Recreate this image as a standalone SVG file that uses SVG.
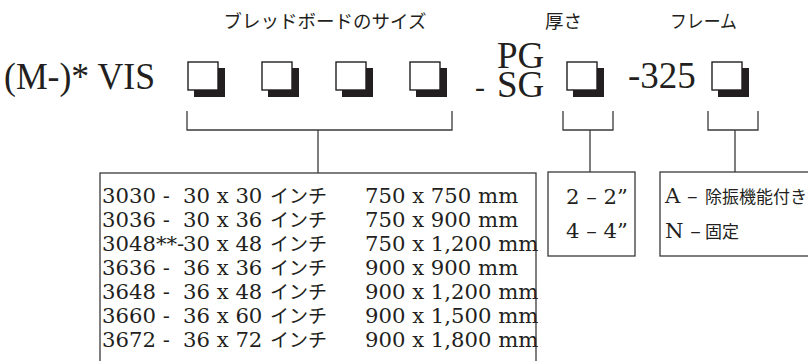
<svg xmlns="http://www.w3.org/2000/svg" width="808" height="361" viewBox="0 0 808 361">
<defs>
<style>
.lbl{font-family:"Noto Sans CJK JP","Noto Sans CJK SC",sans-serif;font-size:18.5px;fill:#231f20}
.big{font-family:"Liberation Serif","Times New Roman",serif;font-size:37px;fill:#231f20}
.tb{font-family:"DejaVu Serif","Noto Sans CJK JP",serif;font-size:21.2px;fill:#231f20}
.cjk{font-family:"Noto Sans CJK JP","Noto Sans CJK SC",sans-serif;font-size:19px;fill:#231f20}
.cjk2{font-family:"Noto Sans CJK JP","Noto Sans CJK SC",sans-serif;font-size:17px;fill:#231f20}
.ln{fill:none;stroke:#3a3a3a;stroke-width:1.3}
.shadow{fill:#231f20}
.sq{fill:#fff;stroke:#231f20;stroke-width:1.4}
</style>
<g id="sqbox">
<rect class="shadow" x="6" y="6" width="31" height="29"/>
<rect class="sq" x="0" y="0" width="30" height="28"/>
</g>
</defs>

<g id="labels">
<text class="lbl" x="325" y="28" text-anchor="middle">ブレッドボードのサイズ</text>
<text class="lbl" x="563.5" y="28" text-anchor="middle">厚さ</text>
<text class="lbl" x="703.5" y="28" text-anchor="middle" textLength="67" lengthAdjust="spacingAndGlyphs">フレーム</text>
</g>

<g id="code">
<text class="big" x="4" y="89" textLength="151" lengthAdjust="spacingAndGlyphs">(M-)* VIS</text>
<text class="big" x="475" y="97" style="font-size:30px">-</text>
<text class="big" x="497" y="68">PG</text>
<text class="big" x="497" y="97">SG</text>
<text class="big" x="628" y="88">-325</text>
</g>

<g id="boxes">
<use href="#sqbox" x="188" y="62"/>
<use href="#sqbox" x="262" y="62"/>
<use href="#sqbox" x="336" y="62"/>
<use href="#sqbox" x="410" y="62"/>
<use href="#sqbox" x="567" y="62"/>
<use href="#sqbox" x="712" y="62"/>
</g>

<g id="connectors">
<path class="ln" d="M187,111 V130 H452 V111 M318,130 V173"/>
<path class="ln" d="M563,111 V130 H613 V111 M590,130 V172"/>
<path class="ln" d="M708,111 V130 H758 V111 M735,130 V172"/>
</g>

<g id="size-table">
<rect class="ln" x="100" y="173" width="436" height="200"/>
<text class="tb">
<tspan x="102" y="203">3030 -</tspan>
<tspan x="102" y="227">3036 -</tspan>
<tspan x="102" y="251">3048**-</tspan>
<tspan x="102" y="275">3636 -</tspan>
<tspan x="102" y="299">3648 -</tspan>
<tspan x="102" y="323">3660 -</tspan>
<tspan x="102" y="347">3672 -</tspan>
</text>
<text class="tb">
<tspan x="183" y="203">30 x 30</tspan>
<tspan x="183" y="227">30 x 36</tspan>
<tspan x="183" y="251">30 x 48</tspan>
<tspan x="183" y="275">36 x 36</tspan>
<tspan x="183" y="299">36 x 48</tspan>
<tspan x="183" y="323">36 x 60</tspan>
<tspan x="183" y="347">36 x 72</tspan>
</text>
<text class="cjk">
<tspan x="270" y="203">インチ</tspan>
<tspan x="270" y="227">インチ</tspan>
<tspan x="270" y="251">インチ</tspan>
<tspan x="270" y="275">インチ</tspan>
<tspan x="270" y="299">インチ</tspan>
<tspan x="270" y="323">インチ</tspan>
<tspan x="270" y="347">インチ</tspan>
</text>
<text class="tb">
<tspan x="365" y="203">750 x 750 mm</tspan>
<tspan x="365" y="227">750 x 900 mm</tspan>
<tspan x="365" y="251">750 x 1,200 mm</tspan>
<tspan x="365" y="275">900 x 900 mm</tspan>
<tspan x="365" y="299">900 x 1,200 mm</tspan>
<tspan x="365" y="323">900 x 1,500 mm</tspan>
<tspan x="365" y="347">900 x 1,800 mm</tspan>
</text>
</g>

<g id="thickness-table">
<rect class="ln" x="548" y="172" width="87" height="84"/>
<text class="tb"><tspan x="566" y="204">2 – 2”</tspan><tspan x="566" y="238">4 – 4”</tspan></text>
</g>

<g id="frame-table">
<rect class="ln" x="660" y="172" width="160" height="84"/>
<text class="tb"><tspan x="665" y="203">A –</tspan><tspan x="665" y="238">N –</tspan></text>
<text class="cjk2"><tspan x="705" y="203">除振機能付き</tspan><tspan x="705" y="238">固定</tspan></text>
</g>
</svg>
